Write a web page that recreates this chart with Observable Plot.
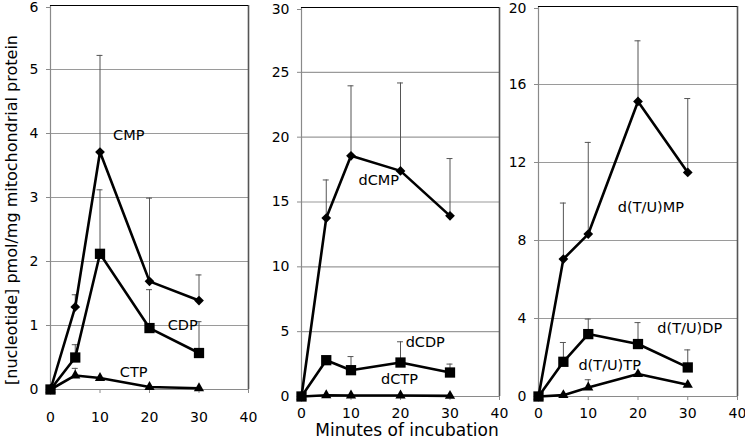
<!DOCTYPE html>
<html>
<head>
<meta charset="utf-8">
<script src="https://cdn.jsdelivr.net/npm/d3@7"></script>
<script src="https://cdn.jsdelivr.net/npm/@observablehq/plot@0.6"></script>
<style>
  html, body { margin: 0; padding: 0; background: #fff; }
  #wrap { position: relative; width: 745px; height: 441px; overflow: hidden; font-family: "DejaVu Sans", sans-serif; }
  #ylab { position: absolute; left: 11px; top: 210px; transform: translate(-50%, -50%) rotate(-90deg); white-space: nowrap; font-size: 16px; color: #000; }
  #xlab { position: absolute; left: 407px; top: 430px; transform: translate(-50%, -50%); white-space: nowrap; font-size: 17px; color: #000; }
</style>
</head>
<body>
<div id="wrap">
  <div id="ylab">[nucleotide] pmol/mg mitochondrial protein</div>
  <div id="xlab">Minutes of incubation</div>
</div>
<script>
// Shared x values (minutes)
const minutes = [0, 5, 10, 20, 30];
const xTicks = [0, 10, 20, 30, 40];

// Panel 1: ribonucleotides
const p1Names = ["CMP", "CDP", "CTP"];
const cmp    = [0, 1.29, 3.71, 1.69, 1.39];
const cmpTop = [null, 1.48, 5.22, 2.99, 1.79];
const cdp    = [0, 0.50, 2.12, 0.96, 0.57];
const cdpTop = [null, 0.70, 3.12, 1.56, 1.06];
const ctp    = [0, 0.22, 0.18, 0.04, 0.02];
const ctpTop = [null, 0.33, null, null, null];
const p1YTicks = [0, 1, 2, 3, 4, 5, 6];
const p1LabelX = [15.8, 26.7, 16.8];
const p1LabelY = [3.97, 1.0, 0.27];

// Panel 2: deoxycytidine nucleotides
const p2Names = ["dCMP", "dCDP", "dCTP"];
const dcmp    = [0, 13.76, 18.56, 17.4, 13.93];
const dcmpTop = [null, 16.7, 23.96, 24.18, 18.35];
const dcdp    = [0, 2.8, 2.03, 2.62, 1.85];
const dcdpTop = [null, 3.08, 3.08, 4.22, 2.5];
const dctp    = [0, 0.1, 0.08, 0.08, 0.05];
const dctpTop = [null, null, null, null, null];
const p2YTicks = [0, 5, 10, 15, 20, 25, 30];
const p2LabelX = [15.6, 25.0, 19.8];
const p2LabelY = [16.65, 4.16, 1.3];

// Panel 3: d(T/U) nucleotides
const p3Names = ["d(T/U)MP", "d(T/U)DP", "d(T/U)TP"];
const dtmp    = [0, 7.05, 8.33, 15.13, 11.49];
const dtmpTop = [null, 9.92, 13.03, 18.24, 15.28];
const dtdp    = [0, 1.78, 3.2, 2.69, 1.49];
const dtdpTop = [null, 2.77, 3.97, 3.79, 2.39];
const dttp    = [0, 0.07, 0.46, 1.15, 0.6];
const dttpTop = [null, null, 0.86, null, null];
const p3YTicks = [0, 4, 8, 12, 16, 20];
const p3LabelX = [22.6, 30.4, 14.3];
const p3LabelY = [9.7, 3.5, 1.6];

const symbols = ["diamond2", "square", "triangle"];
const symR = [4.4, 5.8, 3.8];

function series(values, tops, k) {
  return minutes.map((m, i) => ({x: m, y: values[i], top: tops[i], k}));
}

function panel(cfg) {
  const {seriesList, names, yTicks, labelX, labelY, left, width, mL, mR, mT, mB, xPad} = cfg;
  const ymax = yTicks[yTicks.length - 1];
  const all = seriesList.flat();
  const errs = all.filter(d => d.top != null);
  const labels = names.map((n, i) => ({x: labelX[i], y: labelY[i], n}));
  const grid = yTicks.slice(1, -1);
  const marks = [
    Plot.ruleY(grid, {stroke: "#9a9a9a", strokeWidth: 1.1}),
    Plot.ruleY([0], {stroke: "#8a8a8a", strokeWidth: 1.2}),
    Plot.ruleX([0], {stroke: "#8a8a8a", strokeWidth: 1.2}),
    Plot.ruleX([40], {stroke: "#555", strokeWidth: 1.6}),
    Plot.ruleY([ymax], {stroke: "#000", strokeWidth: 1.2}),
    Plot.axisY({ticks: yTicks.slice(0, -1), tickSize: 4, tickPadding: 8, stroke: "#8a8a8a", label: null, tickFormat: d => String(d)}),
    Plot.axisY({ticks: [ymax], tickSize: 4, tickPadding: 8, stroke: "#8a8a8a", label: null, dy: 2, tickFormat: d => String(d)}),
    Plot.axisX({ticks: xTicks, tickSize: 4, tickPadding: xPad, stroke: "#8a8a8a", label: null, tickFormat: d => String(d)}),
    Plot.ruleX(errs, {x: "x", y1: "y", y2: "top", stroke: "#555", strokeWidth: 1}),
    Plot.ruleY(errs, {y: "top", x1: d => d.x - 0.6, x2: d => d.x + 0.6, stroke: "#555", strokeWidth: 1}),
  ];
  seriesList.forEach((s, i) => {
    marks.push(Plot.line(s, {x: "x", y: "y", stroke: "#000", strokeWidth: 2.6}));
    marks.push(Plot.dot(s, {x: "x", y: "y", symbol: () => symbols[i], fill: "#000", stroke: "none", r: symR[i]}));
  });
  marks.push(Plot.text(labels, {x: "x", y: "y", text: "n", fontSize: 14.5, fill: "#000"}));
  const svg = Plot.plot({
    width, height: 425,
    marginLeft: mL, marginRight: mR, marginTop: mT, marginBottom: mB,
    style: {fontFamily: "DejaVu Sans, sans-serif", fontSize: "14px", color: "#000", background: "transparent", overflow: "visible"},
    x: {domain: [0, 40]},
    y: {domain: [0, ymax]},
    symbol: {type: "identity"},
    marks
  });
  svg.style.left = left + "px";
  svg.style.position = "absolute";
  svg.style.top = "0px";
  document.getElementById("wrap").appendChild(svg);
}

panel({
  seriesList: [series(cmp, cmpTop, 0), series(cdp, cdpTop, 1), series(ctp, ctpTop, 2)],
  names: p1Names, yTicks: p1YTicks, labelX: p1LabelX, labelY: p1LabelY,
  left: 0, width: 250, mL: 50, mR: 2, mT: 5, mB: 36, xPad: 19
});
panel({
  seriesList: [series(dcmp, dcmpTop, 0), series(dcdp, dcdpTop, 1), series(dctp, dctpTop, 2)],
  names: p2Names, yTicks: p2YTicks, labelX: p2LabelX, labelY: p2LabelY,
  left: 255, width: 250, mL: 46, mR: 6, mT: 7, mB: 29, xPad: 8
});
panel({
  seriesList: [series(dtmp, dtmpTop, 0), series(dtdp, dtdpTop, 1), series(dttp, dttpTop, 2)],
  names: p3Names, yTicks: p3YTicks, labelX: p3LabelX, labelY: p3LabelY,
  left: 505, width: 240, mL: 33, mR: 8, mT: 6, mB: 29, xPad: 8
});
</script>
</body>
</html>
